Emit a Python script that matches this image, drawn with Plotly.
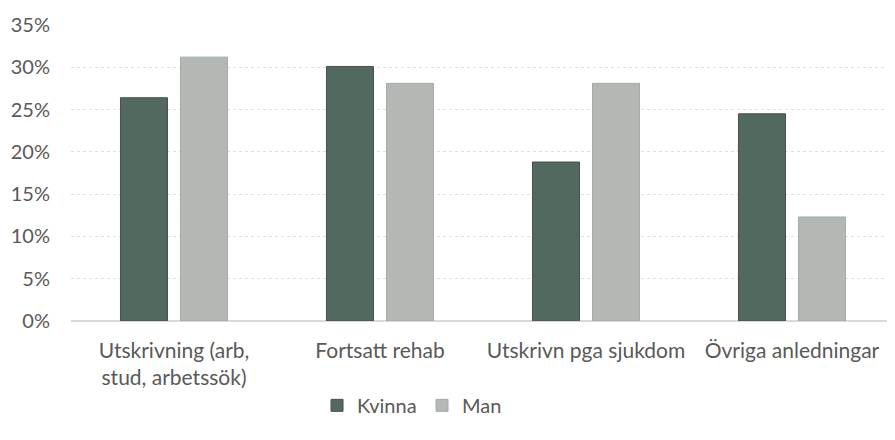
import plotly.graph_objects as go

categories = ["Utskrivning (arb,<br>stud, arbetssök)", "Fortsatt rehab", "Utskrivn pga sjukdom", "Övriga anledningar"]
kvinna = [26.4, 30.1, 18.8, 24.5]
man = [31.2, 28.1, 28.1, 12.3]
y_ticks = [0, 5, 10, 15, 20, 25, 30, 35]
y_labels = [f"{v}%" for v in y_ticks]

font_family = "Lato, Open Sans, sans-serif"
text_color = "#595959"
fsize = 21

fig = go.Figure()
fig.add_trace(go.Bar(name="Kvinna", x=categories, y=kvinna, marker=dict(color="#52695f", line=dict(color="#46524d", width=1))))
fig.add_trace(go.Bar(name="Man", x=categories, y=man, marker=dict(color="#b3b8b5", line=dict(color="#a5aaa7", width=1))))

# page body has an 8px default margin, so the figure is sized/offset to compensate
fig.update_layout(
    width=887, height=432,
    margin=dict(l=63, r=0, t=17, b=119),
    paper_bgcolor="white", plot_bgcolor="white",
    barmode="group", bargap=0.417, bargroupgap=0.217,
    font=dict(family=font_family, size=fsize, color=text_color),
    showlegend=True,
    legend=dict(orientation="h", x=0.426, xanchor="center", y=-0.285, yanchor="middle",
                font=dict(size=20, color=text_color), itemwidth=30, traceorder="normal",
                entrywidth=60, entrywidthmode="pixels"),
    xaxis=dict(showgrid=False, showline=False, ticks="", automargin=False, ticklabelstandoff=15,
               tickfont=dict(size=fsize, color=text_color)),
    yaxis=dict(range=[0, 35], tickvals=y_ticks, ticktext=y_labels, showgrid=True, automargin=False,
               gridcolor="#e0e0e0", gridwidth=1, griddash="dot", zeroline=True, zerolinecolor="#d9d9d9",
               showline=False, ticks="", ticklabelstandoff=20, tickfont=dict(size=20, color=text_color)),
)

fig.write_html("out.html")
